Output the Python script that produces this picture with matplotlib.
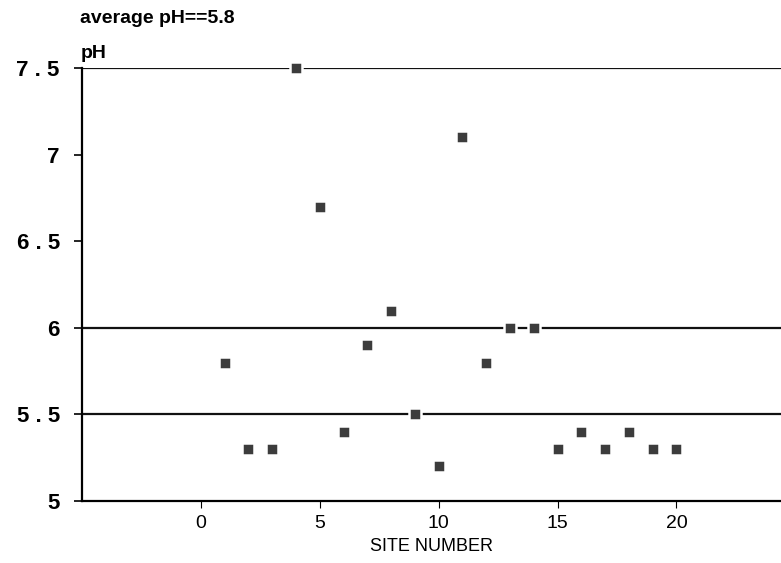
import numpy as np
import matplotlib
matplotlib.use("Agg")
import matplotlib.pyplot as plt

plt.rcParams['font.family'] = ['Liberation Sans', 'DejaVu Sans']

# site numbers and measured pH
site = np.arange(1, 21)
ph = np.array([5.8, 5.3, 5.3, 7.5, 6.7, 5.4, 5.9, 6.1, 5.5, 5.2,
               7.1, 5.8, 6.0, 6.0, 5.3, 5.4, 5.3, 5.4, 5.3, 5.3])

ref_lines = [7.5, 6.0, 5.5]
xticks = [0, 5, 10, 15, 20]
yticks = [5, 5.5, 6, 6.5, 7, 7.5]
ytick_labels = ["5", "5 . 5", "6", "6 . 5", "7", "7 . 5"]

fig = plt.figure(figsize=(7.81, 5.63), dpi=100)
ax = fig.add_axes([0.105, 0.110, 0.895, 0.769])

for y in ref_lines:
    ax.axhline(y, color='#111111', lw=1.6, zorder=1)

ax.plot(site, ph, 's', ms=9, mfc='#3c3c3c', mec='white', mew=1.8,
        zorder=3, clip_on=False)

ax.set_xlim(-5, 24.4)
ax.set_ylim(5, 7.5)

ax.spines['top'].set_visible(False)
ax.spines['right'].set_visible(False)
ax.spines['left'].set_linewidth(1.6)
ax.spines['bottom'].set_linewidth(1.6)

ax.set_xticks(xticks)
ax.set_xticklabels([str(t) for t in xticks], fontsize=14,
                   family=['Liberation Sans Narrow', 'Liberation Sans'])
ax.tick_params(axis='x', direction='out', length=5, width=0.8, pad=5)
ax.set_yticks(yticks)
ax.set_yticklabels(ytick_labels, fontsize=16, fontweight='bold',
                   family=['Liberation Sans', 'DejaVu Sans'])
ax.tick_params(axis='y', direction='out', length=6, width=1.2, pad=10)

ax.set_xlabel("SITE NUMBER", fontsize=13, labelpad=4,
              family=['Liberation Sans Narrow', 'Liberation Sans'])

fig.text(0.103, 0.968, "average pH==5.8", fontsize=14, fontweight='bold',
         ha='left', va='center')
fig.text(0.103, 0.905, "pH", fontsize=14, fontweight='bold',
         ha='left', va='center')

fig.savefig("out.png", dpi=100)
